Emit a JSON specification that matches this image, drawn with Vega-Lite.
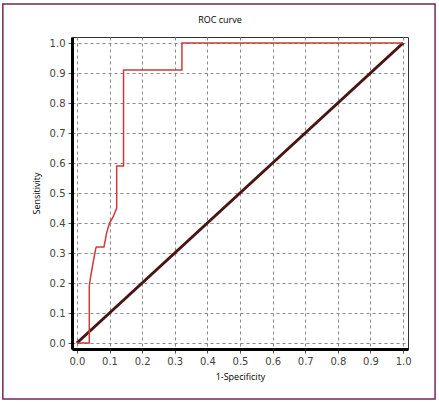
{
  "$schema": "https://vega.github.io/schema/vega-lite/v6.json",
  "width": 336,
  "height": 312,
  "autosize": {"type": "none"},
  "padding": {"left": 72, "top": 37, "right": 31, "bottom": 55},
  "background": "white",
  "title": {
    "text": "ROC curve",
    "font": "Open Sans",
    "fontSize": 9,
    "fontWeight": "normal",
    "color": "black",
    "anchor": "middle",
    "frame": "group",
    "dx": -20,
    "offset": -22
  },
  "datasets": {
    "roc": [
      {"i": 0, "fpr": 0.0, "tpr": 0.0},
      {"i": 1, "fpr": 0.038, "tpr": 0.0},
      {"i": 2, "fpr": 0.038, "tpr": 0.19},
      {"i": 3, "fpr": 0.042, "tpr": 0.22},
      {"i": 4, "fpr": 0.05, "tpr": 0.27},
      {"i": 5, "fpr": 0.058, "tpr": 0.316},
      {"i": 6, "fpr": 0.06, "tpr": 0.32},
      {"i": 7, "fpr": 0.083, "tpr": 0.32},
      {"i": 8, "fpr": 0.091, "tpr": 0.366},
      {"i": 9, "fpr": 0.1, "tpr": 0.4},
      {"i": 10, "fpr": 0.111, "tpr": 0.42},
      {"i": 11, "fpr": 0.122, "tpr": 0.45},
      {"i": 12, "fpr": 0.122, "tpr": 0.59},
      {"i": 13, "fpr": 0.143, "tpr": 0.59},
      {"i": 14, "fpr": 0.143, "tpr": 0.91},
      {"i": 15, "fpr": 0.322, "tpr": 0.91},
      {"i": 16, "fpr": 0.322, "tpr": 1.0},
      {"i": 17, "fpr": 1.0, "tpr": 1.0}
    ],
    "diag": [
      {"i": 0, "fpr": 0.0, "tpr": 0.0},
      {"i": 1, "fpr": 1.0, "tpr": 1.0}
    ]
  },
  "layer": [
    {
      "data": {"name": "diag"},
      "mark": {"type": "line", "color": "#4a1414", "strokeWidth": 3},
      "encoding": {
        "x": {
          "field": "fpr",
          "type": "quantitative",
          "scale": {"domain": [-0.015, 1.015], "nice": false, "zero": false},
          "axis": {
            "title": "1-Specificity",
            "values": [0, 0.1, 0.2, 0.3, 0.4, 0.5, 0.6, 0.7, 0.8, 0.9, 1.0],
            "format": ".1f",
            "titlePadding": 6
          }
        },
        "y": {
          "field": "tpr",
          "type": "quantitative",
          "scale": {"domain": [-0.02, 1.02], "nice": false, "zero": false},
          "axis": {
            "title": "Sensitivity",
            "values": [0, 0.1, 0.2, 0.3, 0.4, 0.5, 0.6, 0.7, 0.8, 0.9, 1.0],
            "format": ".1f",
            "titlePadding": 8
          }
        },
        "order": {"field": "i", "type": "quantitative"}
      }
    },
    {
      "data": {"name": "roc"},
      "mark": {"type": "line", "color": "#d03a3a", "strokeWidth": 1.5},
      "encoding": {
        "x": {
          "field": "fpr",
          "type": "quantitative",
          "axis": {
            "title": "1-Specificity",
            "values": [0, 0.1, 0.2, 0.3, 0.4, 0.5, 0.6, 0.7, 0.8, 0.9, 1.0],
            "format": ".1f",
            "titlePadding": 6
          }
        },
        "y": {
          "field": "tpr",
          "type": "quantitative",
          "axis": {
            "title": "Sensitivity",
            "values": [0, 0.1, 0.2, 0.3, 0.4, 0.5, 0.6, 0.7, 0.8, 0.9, 1.0],
            "format": ".1f",
            "titlePadding": 8
          }
        },
        "order": {"field": "i", "type": "quantitative"}
      }
    },
    {
      "data": {"values": [{}]},
      "mark": {"type": "rect", "filled": false, "fill": "transparent", "stroke": "#6e2a5a", "strokeWidth": 1.5, "clip": false},
      "encoding": {
        "x": {
          "datum": -0.227,
          "type": "quantitative",
          "axis": {
            "title": "1-Specificity",
            "values": [0, 0.1, 0.2, 0.3, 0.4, 0.5, 0.6, 0.7, 0.8, 0.9, 1.0],
            "format": ".1f",
            "titlePadding": 6
          }
        },
        "x2": {"datum": 1.098},
        "y": {
          "datum": -0.187,
          "type": "quantitative",
          "axis": {
            "title": "Sensitivity",
            "values": [0, 0.1, 0.2, 0.3, 0.4, 0.5, 0.6, 0.7, 0.8, 0.9, 1.0],
            "format": ".1f",
            "titlePadding": 8
          }
        },
        "y2": {"datum": 1.13}
      }
    }
  ],
  "config": {
    "view": {"stroke": "#333333", "strokeWidth": 1},
    "axis": {
      "domainColor": "black",
      "domainWidth": 3,
      "grid": true,
      "gridColor": "#888888",
      "gridDash": [3, 3],
      "gridWidth": 1,
      "tickColor": "#555555",
      "tickSize": 4,
      "labelFont": "DejaVu Sans",
      "labelFontSize": 10,
      "labelColor": "#444444",
      "labelPadding": 3,
      "labelOverlap": false,
      "titleFont": "Open Sans",
      "titleFontSize": 9,
      "titleFontWeight": "normal",
      "titleColor": "black"
    }
  }
}
